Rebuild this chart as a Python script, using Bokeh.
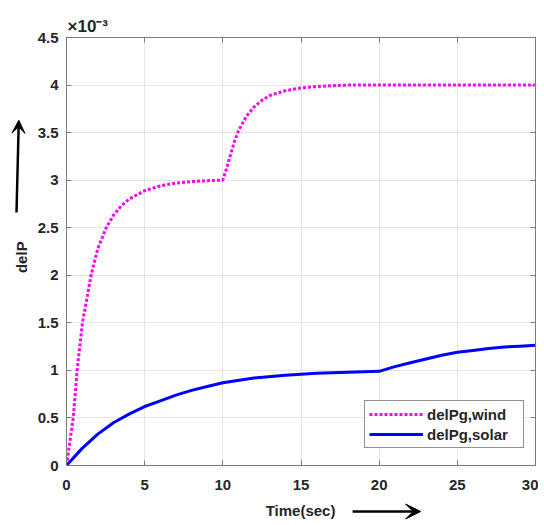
import math
from bokeh.plotting import figure
from bokeh.layouts import row, column
from bokeh.models import (Range1d, LinearAxis, Label, Arrow, VeeHead, Legend,
                          LegendItem, CustomJSTickFormatter, Title)
from bokeh.embed import file_html
from bokeh.resources import INLINE

# ---- data (delP in units of 1e-3) ----
time_wind = [0, 0.43, 0.68, 1.02, 1.32, 1.57, 2.0, 2.54, 3.0, 3.5, 4.0, 5.0,
             6.0, 7.0, 8.0, 9.0, 10.0, 10.25, 10.5, 10.75, 11.0, 11.5, 12.0,
             12.5, 13.0, 14.0, 15.0, 16.0, 17.0, 18.0, 20, 25, 30]
delPg_wind = [0, 0.5, 1.0, 1.5, 1.77, 2.0, 2.28, 2.5, 2.63, 2.73, 2.8, 2.89,
              2.94, 2.97, 2.985, 2.995, 3.0, 3.13, 3.27, 3.41, 3.52, 3.67, 3.77,
              3.84, 3.89, 3.94, 3.97, 3.985, 3.993, 4.0, 4.0, 4.0, 4.0]
time_solar = [0, 1, 2, 3, 4, 5, 6, 7, 8, 9, 10, 12, 14, 16, 18, 20,
              21, 22, 23, 24, 25, 26, 27, 28, 29, 30]
delPg_solar = [0, 0.18, 0.33, 0.45, 0.54, 0.62, 0.68, 0.74, 0.79, 0.83, 0.87,
               0.92, 0.95, 0.97, 0.98, 0.99, 1.04, 1.08, 1.12, 1.16, 1.19,
               1.21, 1.23, 1.245, 1.255, 1.265]
x_ticks = [0, 5, 10, 15, 20, 25, 30]
y_ticks = [0, 0.5, 1, 1.5, 2, 2.5, 3, 3.5, 4, 4.5]
series_labels = ["delPg,wind", "delPg,solar"]

FONT = "Liberation Sans"
TXT = "#262626"
AX = "#7a7a7a"

X_RANGE = (0, 30)
Y_RANGE = (0, 4.5)

# ---------------- main plot ----------------
p = figure(width=508, height=498, output_backend="svg", toolbar_location=None,
           x_range=Range1d(*X_RANGE), y_range=Range1d(*Y_RANGE),
           min_border_left=36, min_border_right=3, min_border_top=37,
           min_border_bottom=33)
p.background_fill_color = "white"
p.outline_line_color = AX
p.outline_line_width = 1

r_w = p.line(time_wind, delPg_wind, line_color="#FF00FF", line_width=3,
             line_dash="3 2")
r_s = p.line(time_solar, delPg_solar, line_color="#0000FF", line_width=3)

fmt = CustomJSTickFormatter(code="return String(tick);")
for ax in (p.xaxis[0], p.yaxis[0]):
    ax.major_tick_in = 5
    ax.major_tick_out = 0
    ax.minor_tick_in = 0
    ax.minor_tick_out = 0
    ax.axis_line_color = AX
    ax.major_tick_line_color = AX
    ax.major_label_text_font = FONT
    ax.major_label_text_font_style = "bold"
    ax.major_label_text_font_size = "15px"
    ax.major_label_text_color = TXT
    ax.formatter = fmt
p.xaxis[0].ticker = x_ticks
p.yaxis[0].ticker = y_ticks
p.xaxis[0].major_label_standoff = 14
p.yaxis[0].major_label_standoff = 8

blank = CustomJSTickFormatter(code="return '';")
for loc, tk in (("above", x_ticks), ("right", y_ticks)):
    a = LinearAxis(ticker=tk, formatter=blank, major_label_standoff=0,
                   major_tick_in=5, major_tick_out=0,
                   minor_tick_in=0, minor_tick_out=0, axis_line_color=AX,
                   major_tick_line_color=AX)
    p.add_layout(a, loc)

p.grid.grid_line_color = "#262626"
p.grid.grid_line_alpha = 0.12

legend = Legend(items=[LegendItem(label=series_labels[0], renderers=[r_w]),
                       LegendItem(label=series_labels[1], renderers=[r_s])],
                location=(298, 17), margin=0, padding=4, spacing=2,
                glyph_width=54, glyph_height=18, label_height=18,
                label_standoff=4, label_width=92,
                label_text_font=FONT, label_text_font_style="bold",
                label_text_font_size="15px", label_text_color=TXT,
                border_line_color=TXT, border_line_width=1,
                background_fill_color="white", background_fill_alpha=1)
p.add_layout(legend)

p.add_layout(Title(text="×10⁻³", align="left", offset=1, standoff=3,
                   text_font=FONT, text_font_style="bold",
                   text_font_size="17px", text_color=TXT), "above")

common = dict(text_font=FONT, text_font_style="bold", text_color=TXT,
              text_font_size="15px")

# ---------------- left strip: y label + arrow ----------------
pl = figure(width=30, height=498, output_backend="svg", toolbar_location=None,
            x_range=Range1d(0, 30), y_range=Range1d(*Y_RANGE),
            min_border_left=0, min_border_right=0, min_border_top=37,
            min_border_bottom=33)
pl.axis.visible = False
pl.grid.visible = False
pl.outline_line_color = None
pl.add_layout(Label(x=21, y=2.19, text="delP", angle=math.pi / 2,
                    text_align="center", text_baseline="middle", **common))
pl.add_layout(Arrow(x_start=16, y_start=2.66, x_end=18.3, y_end=3.63,
                    line_width=2.5, line_color="black",
                    end=VeeHead(size=13, fill_color="black",
                                line_color="black")))

# ---------------- bottom strip: x label + arrow ----------------
pb = figure(width=538, height=22, output_backend="svg", toolbar_location=None,
            x_range=Range1d(*X_RANGE), y_range=Range1d(0, 22),
            min_border_left=66, min_border_right=3, min_border_top=0,
            min_border_bottom=0)
pb.axis.visible = False
pb.grid.visible = False
pb.outline_line_color = None
pb.add_layout(Label(x=14.97, y=10, text="Time(sec)", text_align="center",
                    text_baseline="middle", **common))
pb.add_layout(Arrow(x_start=18.3, y_start=9, x_end=22.65, y_end=9,
                    line_width=2.5, line_color="black",
                    end=VeeHead(size=15, fill_color="black",
                                line_color="black")))

layout = column(row(pl, p), pb)
open("out.html", "w").write(file_html(layout, INLINE))
